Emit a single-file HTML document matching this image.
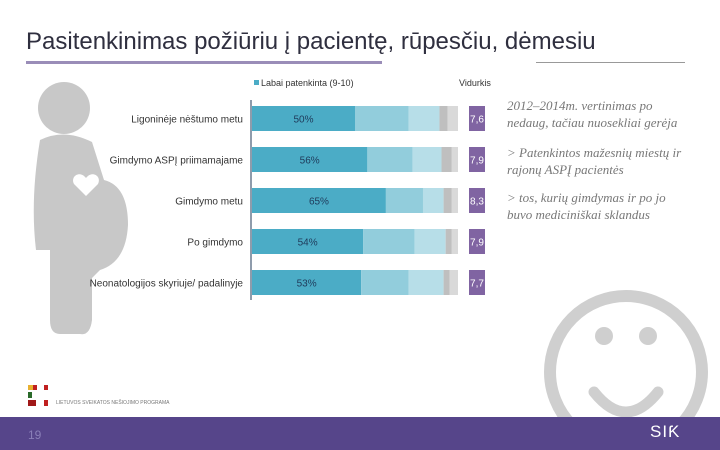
<!DOCTYPE html>
<html><head><meta charset="utf-8"><style>
body{margin:0;width:720px;height:450px;overflow:hidden;background:#fff;font-family:"Liberation Sans",sans-serif;position:relative}
.abs{position:absolute}
</style></head><body>
<div class="abs" style="left:26px;top:28px;font-size:24px;color:#2f2f3f;white-space:nowrap">Pasitenkinimas požiūriu į pacientę, rūpesčiu, dėmesiu</div>
<div class="abs" style="left:26px;top:61px;width:356px;height:3px;background:#9a8db8"></div>
<div class="abs" style="left:536px;top:62px;width:149px;height:1px;background:#999"></div>

<svg class="abs" style="left:0;top:0" width="720" height="450">
  <g fill="#c8c8c8">
    <circle cx="64" cy="108" r="26"/>
    <path d="M40 140 Q64 128 92 142 L104 180 Q128 186 128 225 Q126 262 100 270 L92 278 L92 320 Q90 336 80 334 L60 334 Q50 334 50 320 L50 250 L36 250 Q30 200 40 140 Z"/>
    <path d="M86 178 c-6 -8 -16 -2 -12 6 l12 12 l12 -12 c4 -8 -6 -14 -12 -6z" fill="#fff"/>
  </g>
  <g fill="none" stroke="#cfcfcf">
    <circle cx="626" cy="372" r="76" stroke-width="12"/>
    <path d="M594 392 Q626 432 658 392" stroke-width="11" stroke-linecap="round"/>
    <circle cx="604" cy="336" r="9" fill="#cfcfcf" stroke="none"/>
    <circle cx="648" cy="336" r="9" fill="#cfcfcf" stroke="none"/>
  </g>
  <g id="bars"></g>
</svg>

<div class="abs" style="left:507px;top:97px;font-size:13px;line-height:17px;color:#777;font-style:italic;font-family:'Liberation Serif',serif">2012–2014m. vertinimas po<br>nedaug, tačiau nuosekliai gerėja</div>
<div class="abs" style="left:507px;top:144px;font-size:13px;line-height:17px;color:#777;font-style:italic;font-family:'Liberation Serif',serif">&gt; Patenkintos mažesnių miestų ir<br>rajonų ASPĮ pacientės</div>
<div class="abs" style="left:507px;top:189px;font-size:13px;line-height:17px;color:#777;font-style:italic;font-family:'Liberation Serif',serif">&gt; tos, kurių gimdymas ir po jo<br>buvo mediciniškai sklandus</div>

<div class="abs" style="left:28px;top:446px"></div>
<div class="abs" style="left:28px;top:385px;width:22px;height:22px">
  <div class="abs" style="left:0;top:0;width:5px;height:5px;background:#e8b030"></div>
  <div class="abs" style="left:5px;top:0;width:4px;height:5px;background:#c02020"></div>
  <div class="abs" style="left:16px;top:0;width:4px;height:5px;background:#c02020"></div>
  <div class="abs" style="left:0;top:7px;width:4px;height:6px;background:#2a6a2a"></div>
  <div class="abs" style="left:0;top:15px;width:8px;height:6px;background:#a01818"></div>
  <div class="abs" style="left:16px;top:15px;width:4px;height:6px;background:#c02020"></div>
</div>
<div class="abs" style="left:56px;top:400px;font-size:5px;color:#777">LIETUVOS SVEIKATOS NEŠIOJIMO PROGRAMA</div>

<div class="abs" style="left:0;top:417px;width:720px;height:33px;background:#56458a"></div>
<div class="abs" style="left:28px;top:428px;font-size:12px;color:#8a7fb8">19</div>
<div class="abs" style="left:650px;top:422px;font-size:17px;color:#fff;letter-spacing:1px">ЅIƘ</div>

<script>
const categories=["Ligoninėje nėštumo metu","Gimdymo ASPĮ priimamajame","Gimdymo metu","Po gimdymo","Neonatologijos skyriuje/ padalinyje"];
const s1=[50,56,65,54,53];
const s2=[26,22,18,25,23];
const s3=[15,14,10,15,17];
const s4=[4,5,4,3,3];
const s5=[5,3,3,3,4];
const avgLabels=["7,6","7,9","8,3","7,9","7,7"];
const colors=["#4bacc6","#92cddc","#b7dee8","#bfbfbf","#d9d9d9"];
const NS="http://www.w3.org/2000/svg";
const g=document.getElementById('bars');
const x0=252,scale=2.06,y0=106,step=41,bh=25;
const xs=v=>v*scale;
const ys=i=>y0+i*step;
function mk(t,a){const e=document.createElementNS(NS,t);for(const k in a)e.setAttribute(k,a[k]);g.appendChild(e);return e;}
const leg=mk('rect',{x:254,y:80,width:5,height:5,fill:colors[0]});


const lt=mk('text',{x:261,y:86,'font-size':9,fill:'#333'});lt.textContent="Labai patenkinta (9-10)";


const vt=mk('text',{x:459,y:86,'font-size':9,fill:'#333'});vt.textContent="Vidurkis";


const ax=mk('line',{x1:251,x2:251,y1:100,y2:300,stroke:'#1f3a5a','stroke-width':1});


const series=[s1,s2,s3,s4,s5];
categories.forEach((c,i)=>{
  const y=ys(i);
  const lab=mk('text',{x:243,y:y+bh/2+4,'font-size':10,fill:'#333','text-anchor':'end'});lab.textContent=c;
  
  
  let acc=0;
  series.forEach((s,k)=>{
    const r=mk('rect',{x:x0+xs(acc),y:y,width:xs(s[i]),height:bh,fill:colors[k]});
    
    
    acc+=s[i];
  });
  const v=mk('text',{x:x0+xs(s1[i])/2,y:y+bh/2+4,'font-size':10,fill:'#1f3a5a','text-anchor':'middle'});v.textContent=s1[i]+"%";
  
  
  const b=mk('rect',{x:469,y:y,width:16,height:bh,fill:'#8064a2'});
  
  
  const bt=mk('text',{x:477,y:y+bh/2+4,'font-size':10,fill:'#fff','text-anchor':'middle'});bt.textContent=avgLabels[i];
  
  
});
</script>
</body></html>
